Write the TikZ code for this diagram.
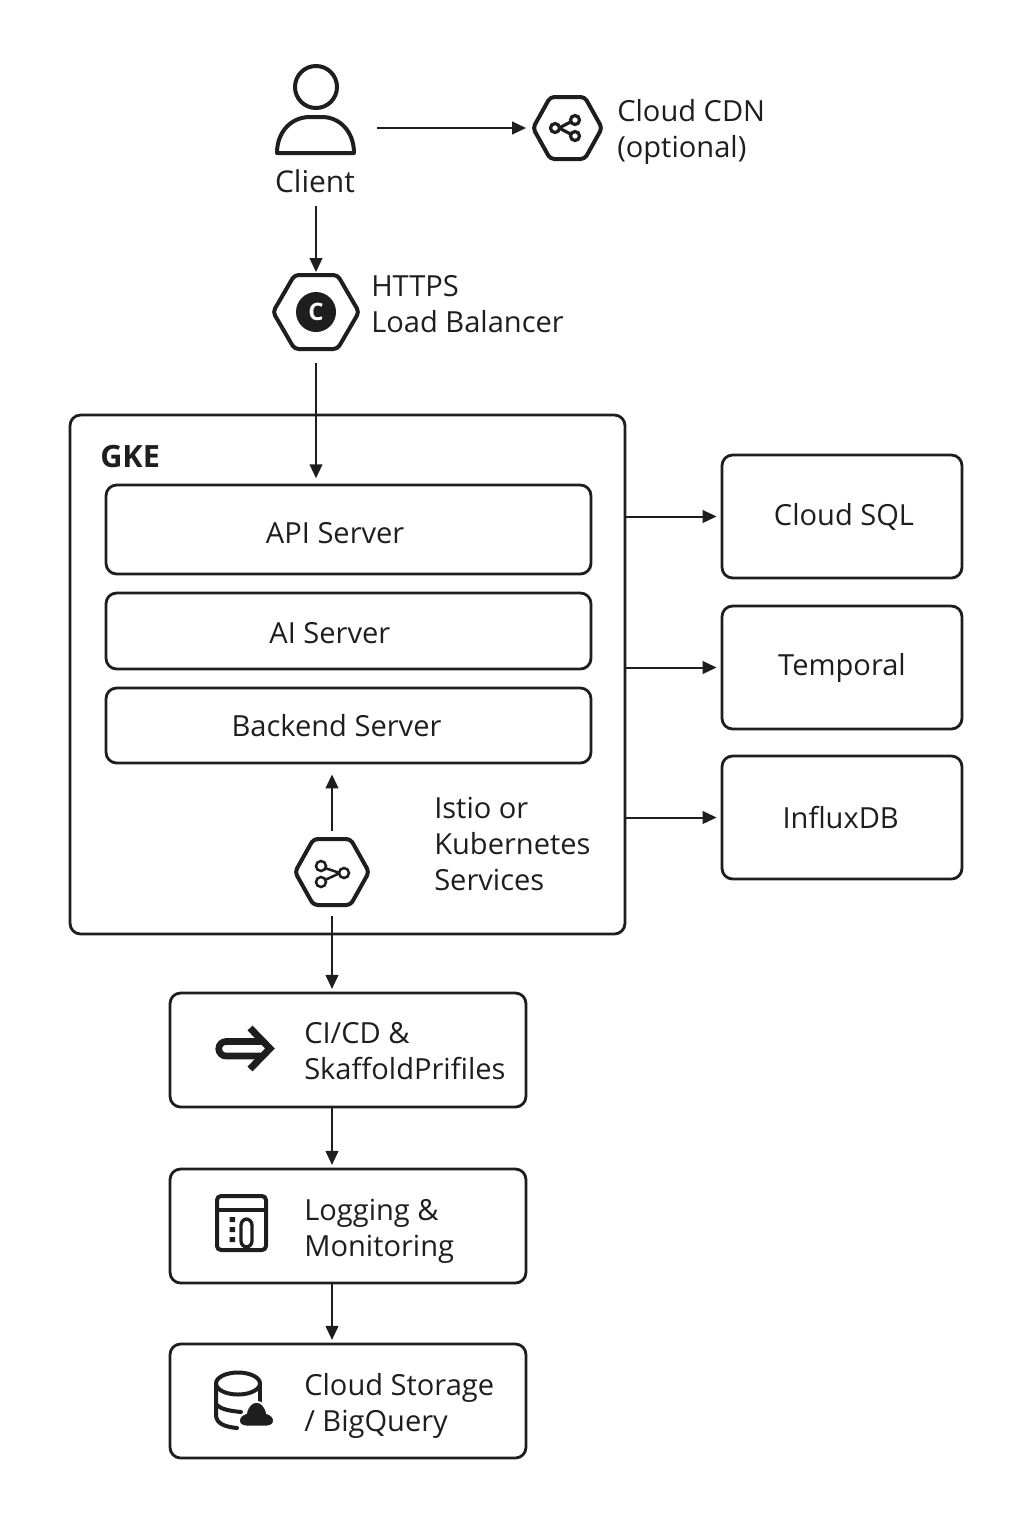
\documentclass[tikz,border=0pt]{standalone}
\usepackage{fontspec}
\setmainfont{Open Sans}
\usetikzlibrary{arrows.meta}
\newcommand{\hexicon}[5]{% name cx cy w h
  \node[minimum width=#4*0.75pt,minimum height=#5*0.75pt,inner sep=0pt] (#1) at (#2,#3) {};
  \draw[iconline,rounded corners=3pt] (#2-#4/2,#3) -- (#2-#4/4,#3-#5/2) -- (#2+#4/4,#3-#5/2) -- (#2+#4/2,#3) -- (#2+#4/4,#3+#5/2) -- (#2-#4/4,#3+#5/2) -- cycle;
}
\tikzset{
  x=0.75pt,y=-0.75pt,
  every node/.style={font=\fontsize{21.8pt}{27pt}\selectfont,text=ink},
  iconline/.style={draw=ink,line width=3pt,line join=round},
  thin icon/.style={draw=ink,line width=2.2pt},
  conn/.style={draw=ink,line width=1.5pt,-{Triangle[length=10.5pt,width=9.5pt]}},
  box/.style 2 args={draw=ink,line width=2.1pt,rounded corners=8pt,minimum width=#1*0.75pt,minimum height=#2*0.75pt,inner sep=0pt,align=center},
  lbl/.style={anchor=west,align=left,inner sep=0pt},
}
\definecolor{ink}{HTML}{1E1E1E}
\begin{document}
\begin{tikzpicture}
\useasboundingbox (0,0) rectangle (1024,1536);
% GKE container
\node[box={555}{519}] (gke) at (347.5,674.5) {};
\node[lbl,font=\fontsize{23pt}{27pt}\selectfont\bfseries] (gkelabel) at (100,457) {GKE};
\node[box={485}{89}] (api) at (348.5,529.5) {\kern-20pt\rule{0pt}{20.5pt}API Server};
\node[box={485}{76}] (ai) at (348.5,631) {\kern-28pt\rule{0pt}{19pt}AI Server};
\node[box={485}{75}] (backend) at (348.5,725.5) {\kern-18pt Backend Server};
\node[lbl] (istiolabel) at (434,844) {Istio or\\Kubernetes\\Services};
% right boxes
\node[box={240}{123}] (sql) at (842,516.5) {\kern3pt Cloud SQL};
\node[box={240}{123}] (temporal) at (842,667.5) {Temporal};
\node[box={240}{123}] (influx) at (842,817.5) {\kern-2pt InfluxDB};
% lower boxes
\node[box={356}{114}] (cicd) at (348,1050) {};
\node[box={356}{114}] (logging) at (348,1226) {};
\node[box={356}{114}] (storage) at (348,1401) {};
\node[lbl] (cicdlabel) at (304,1051) {CI/CD \&\\SkaffoldPrifiles};
\node[lbl] (logginglabel) at (304,1231) {Logging \&\\Monitoring};
\node[lbl] (storagelabel) at (304,1406) {Cloud Storage\\/ BigQuery};
% client
\draw[iconline] (316,87) circle (21);
\draw[iconline] (277,153) -- (354,153) .. controls (354,132) and (340,117) .. (322,117) -- (310,117) .. controls (291,117) and (277,132) .. (277,153) -- cycle;
\node[minimum width=78*0.75pt,minimum height=90*0.75pt,inner sep=0pt] (client) at (316,109) {};
\node[inner sep=0pt,font=\fontsize{22.5pt}{27pt}\selectfont] (clientlabel) at (315,181) {Client};
% CDN
\hexicon{cdn}{567.5}{128}{69}{62}
\node[lbl] (cdnlabel) at (617,132) {Cloud CDN\\(optional)};
\draw[thin icon,line width=2.4pt] (559,128) -- (571.5,121.5) (559,128) -- (571.5,134.5);
\draw[thin icon,line width=2.4pt,fill=white] (555,128) circle (4.5) (575,120) circle (4.5) (575,136) circle (4.5);
% load balancer
\hexicon{lb}{316}{312}{86}{74}
\node[circle,fill=ink,minimum size=40*0.75pt,inner sep=0pt,text=white,font=\fontsize{18pt}{20pt}\selectfont\bfseries] (lbicon) at (316,312) {C};
\node[lbl] (lblabel) at (371,304.5) {HTTPS\\Load Balancer};
% istio
\hexicon{istio}{332}{872}{74}{66}
\draw[thin icon,line width=1.9pt] (325,868) -- (340,873) (325,880) -- (340,873);
\draw[thin icon,line width=1.9pt,fill=white] (321,866) circle (5) (321,882) circle (5) (344,873) circle (5);
% CI/CD icon
\draw[draw=ink,line width=5pt,line cap=round] (262,1041.5) -- (226,1041.5) arc[start angle=270,end angle=90,radius=7.25] -- (262,1056);
\draw[draw=ink,line width=5.2pt,line join=miter,line cap=butt] (250,1028) -- (270,1048.5) -- (250,1069);
% logging icon
\draw[iconline,rounded corners=3pt] (217,1196) rectangle (266,1250);
\draw[iconline] (217,1210) -- (266,1210);
\fill[ink] (229.5,1217) rectangle (235,1222) (229.5,1227) rectangle (235,1232) (229.5,1237) rectangle (235,1242);
\draw[thin icon,line width=2.5pt,rounded corners=4.5pt] (241,1219) rectangle (252,1247);
% storage icon
\draw[iconline] (238,1383.5) ellipse (22 and 11);
\draw[iconline,line cap=round] (216,1383.5) -- (216,1415) .. controls (216,1424) and (226,1427) .. (237,1428);
\draw[iconline] (260,1384) -- (260,1407);
\draw[iconline,line cap=round] (217,1405) .. controls (222,1410) and (232,1411) .. (241,1412);
\fill[ink,draw=white,line width=1.5pt] (246,1426.5) .. controls (237,1426.5) and (236,1416) .. (246,1413) .. controls (249,1398) and (264,1398) .. (267,1413) .. controls (277,1416) and (276,1426.5) .. (267,1426.5) -- cycle;
% connectors
\draw[conn,shorten <=16.5pt,shorten >=5pt] (client.east |- cdn.west) -- (cdn.west);
\draw[conn,shorten <=10pt,shorten >=2pt] (clientlabel.south -| client.center) -- (lb.north);
\draw[conn,shorten <=10pt,shorten >=4pt] (lb.south) -- (lb.south |- api.north);
\draw[conn,shorten >=3pt] (gke.east |- sql.west) -- (sql.west);
\draw[conn,shorten >=3pt] (gke.east |- temporal.west) -- (temporal.west);
\draw[conn,shorten >=3pt] (gke.east |- influx.west) -- (influx.west);
\draw[conn,shorten <=6pt,shorten >=7.5pt] (istio.north) -- (istio.north |- backend.south);
\draw[conn,shorten <=8pt,shorten >=2pt] (istio.south) -- (istio.south |- cicd.north);
\draw[conn,shorten >=2pt] (istio.south |- cicd.south) -- (istio.south |- logging.north);
\draw[conn,shorten >=2pt] (istio.south |- logging.south) -- (istio.south |- storage.north);
\end{tikzpicture}
\end{document}
